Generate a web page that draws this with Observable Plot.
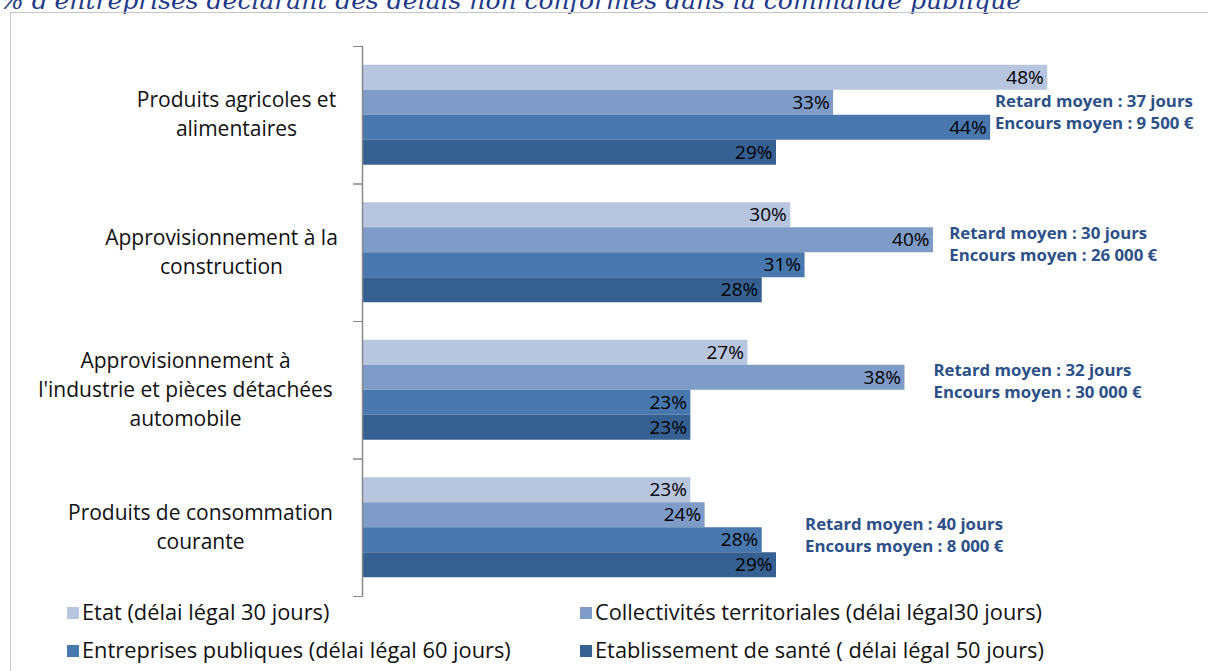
<!DOCTYPE html>
<html>
<head>
<meta charset="utf-8">
<script src="https://cdn.jsdelivr.net/npm/d3@7"></script>
<script src="https://cdn.jsdelivr.net/npm/@observablehq/plot@0.6"></script>
<style>
  html, body { margin: 0; padding: 0; background: #fff; width: 1208px; height: 671px; overflow: hidden; }
  #wrap { position: relative; width: 1208px; height: 671px; overflow: hidden; font-family: "Open Sans", Lato, sans-serif; }
  #title { position: absolute; left: 0; top: -14px; font-family: "DejaVu Serif", "Liberation Serif", serif; font-style: italic; font-size: 25px; line-height: 30px; color: #1f3a8a; white-space: nowrap; }
  #box { position: absolute; left: 10px; top: 12px; width: 1220px; height: 700px; border: 1px solid #c4c4c4; box-sizing: border-box; }
  #chart { position: absolute; left: 0; top: 0; }
  .leg { position: absolute; font-size: 21.8px; color: #111; white-space: nowrap; line-height: 24px; }
  .leg span.sw { display: inline-block; width: 12px; height: 12px; margin-right: 3px; vertical-align: 1px; }
</style>
</head>
<body>
<div id="wrap">
  <div id="title">% d'entreprises déclarant des délais non conformes dans la commande publique</div>
  <div id="box"></div>
  <div id="chart"></div>
  <div id="legend"></div>
</div>
<script>
// ---- Data ----
const categories = [
  "Produits agricoles et alimentaires",
  "Approvisionnement à la construction",
  "Approvisionnement à l'industrie et pièces détachées automobile",
  "Produits de consommation courante"
];
const categoryLabels = [
  "Produits agricoles et\nalimentaires",
  "Approvisionnement à la\nconstruction",
  "Approvisionnement à\nl'industrie et pièces détachées\nautomobile",
  "Produits de consommation\ncourante"
];
const series = [
  "Etat (délai légal 30 jours)",
  "Collectivités territoriales (délai légal30 jours)",
  "Entreprises publiques (délai légal 60 jours)",
  "Etablissement de santé ( délai légal 50 jours)"
];
const etat = [48, 30, 27, 23];
const collectivites = [33, 40, 38, 24];
const entreprises = [44, 31, 23, 28];
const sante = [29, 28, 23, 29];
const retardMoyen = ["37 jours", "30 jours", "32 jours", "40 jours"];
const encoursMoyen = ["9 500 €", "26 000 €", "30 000 €", "8 000 €"];

const colors = ["#b7c5df", "#7f9bc7", "#4878ae", "#376092"];

const seriesValues = [etat, collectivites, entreprises, sante];
const data = [];
categories.forEach((c, i) => {
  series.forEach((s, j) => data.push({category: c, series: s, value: seriesValues[j][i]}));
});

// annotation placement (x in % units, vertical nudge in px)
const annotX = [44.3, 41.1, 40.0, 31.0];
const annotDy = [-4, -10, -10, 6];
// category label horizontal offsets from the axis (px)
const labelDx = [-126, -141, -177, -162];

const annotMarks = categories.map((c, i) => Plot.text([c], {
  fy: d => d,
  x: () => annotX[i],
  text: () => `Retard moyen : ${retardMoyen[i]}\nEncours moyen : ${encoursMoyen[i]}`,
  textAnchor: "start",
  fill: "#2c5088",
  fontWeight: "bold",
  fontSize: 16.8,
  lineHeight: 1.31,
  dy: annotDy[i]
}));

const labelMarks = categories.map((c, i) => Plot.text([c], {
  fy: d => d,
  text: () => categoryLabels[i],
  frameAnchor: "left",
  dx: labelDx[i],
  dy: -3,
  textAnchor: "middle",
  fontSize: 21,
  lineHeight: 1.38,
  fill: "#111"
}));

const chart = Plot.plot({
  width: 1208,
  height: 600,
  marginTop: 46,
  marginBottom: 4,
  marginLeft: 362,
  marginRight: 18,
  style: {fontFamily: "'Open Sans', Lato, sans-serif", background: "transparent"},
  x: {domain: [0, 58], axis: null},
  y: {domain: series, axis: null, paddingInner: 0, paddingOuter: 0.75, round: false},
  fy: {domain: categories, axis: null, padding: 0, round: false},
  color: {domain: series, range: colors},
  marks: [
    Plot.barX(data, {fy: "category", y: "series", x: "value", fill: "series"}),
    Plot.text(data, {fy: "category", y: "series", x: "value", text: d => d.value + "%", textAnchor: "end", dx: -4, fill: "#000", fontSize: 19}),
    Plot.ruleX([0], {stroke: "#888", strokeWidth: 1.5}),
    Plot.frame({anchor: "top", insetLeft: -9, insetRight: 828, stroke: "#888"}),
    Plot.frame({anchor: "bottom", insetLeft: -9, insetRight: 828, stroke: "#888"}),
    ...labelMarks,
    ...annotMarks
  ]
});
document.getElementById("chart").appendChild(chart);

// ---- Legend ----
const legendPos = [[67, 600], [580, 600], [67, 638], [580, 638]];
const legend = document.getElementById("legend");
series.forEach((s, j) => {
  const div = document.createElement("div");
  div.className = "leg";
  div.style.left = legendPos[j][0] + "px";
  div.style.top = legendPos[j][1] + "px";
  div.innerHTML = `<span class="sw" style="background:${colors[j]}"></span>`;
  div.appendChild(document.createTextNode(s));
  legend.appendChild(div);
});
</script>
</body>
</html>
